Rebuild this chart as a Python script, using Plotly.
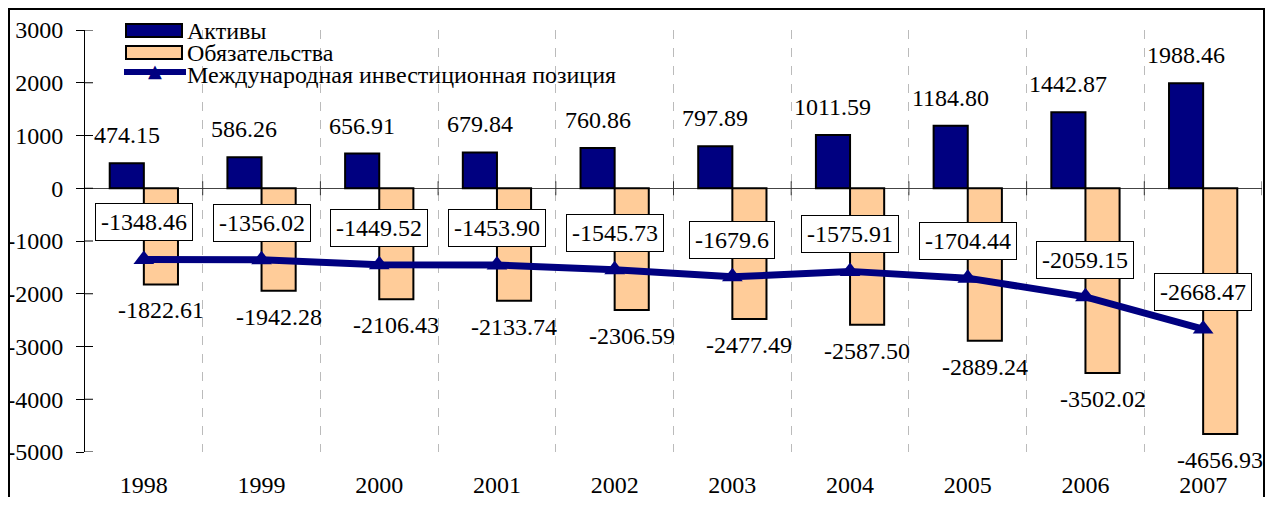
import plotly.graph_objects as go

years = ["1998", "1999", "2000", "2001", "2002", "2003", "2004", "2005", "2006", "2007"]
assets = [474.15, 586.26, 656.91, 679.84, 760.86, 797.89, 1011.59, 1184.80, 1442.87, 1988.46]
liabilities = [-1822.61, -1942.28, -2106.43, -2133.74, -2306.59, -2477.49, -2587.50, -2889.24, -3502.02, -4656.93]
net_position = [-1348.46, -1356.02, -1449.52, -1453.90, -1545.73, -1679.6, -1575.91, -1704.44, -2059.15, -2668.47]
net_labels = ["-1348.46", "-1356.02", "-1449.52", "-1453.90", "-1545.73", "-1679.6", "-1575.91", "-1704.44", "-2059.15", "-2668.47"]
y_ticks = [3000, 2000, 1000, 0, -1000, -2000, -3000, -4000, -5000]
y_tick_text = ["3000", "2000", "1000", "0", "-1000", "-2000", "-3000", "-4000", "-5000"]
series_names = ["Активы", "Обязательства", "Международная инвестиционная позиция"]

# the page body has an 8px margin on every side: lay the figure out in window pixels
OFF = 8
WIN_W, WIN_H = 1273, 505
W, H = WIN_W - 2 * OFF, WIN_H - 2 * OFF
L, R, T, B = 85, 1262, 30, 452          # plot area in window pixels
BARGAP = 0.42
FONT = "Liberation Serif"
FS = 24
NAVY = "#000080"
PEACH = "#FFCC99"


def px(x):
    return (x - L) / (R - L)


def py(y):
    return (B - y) / (B - T)


fig = go.Figure()
fig.add_bar(x=years, y=assets, name=series_names[0], marker=dict(color=NAVY, line=dict(color="black", width=2)))
fig.add_bar(x=years, y=liabilities, name=series_names[1], marker=dict(color=PEACH, line=dict(color="black", width=2)))
fig.add_scatter(x=years, y=net_position, name=series_names[2], mode="lines+markers",
                line=dict(color=NAVY, width=7),
                marker=dict(symbol="triangle-up", size=18, color=NAVY))

cat_w = (R - L) / len(years)
bar_w = cat_w * (1 - BARGAP) / 2

ann = []
for i, (a, l, n, nl) in enumerate(zip(assets, liabilities, net_position, net_labels)):
    ann.append(dict(x=i, y=a, text=f"{a:.2f}", showarrow=False, xshift=-bar_w / 2, yshift=28,
                    yanchor="middle", font=dict(family=FONT, size=FS, color="black")))
    ann.append(dict(x=i, y=l, text=f"{l:.2f}", showarrow=False, xshift=bar_w / 2, yshift=-26,
                    yanchor="middle", font=dict(family=FONT, size=FS, color="black")))
    ann.append(dict(x=i, y=n, text=nl, showarrow=False, yshift=37, yanchor="middle",
                    bgcolor="white", bordercolor="black", borderwidth=1, borderpad=5,
                    font=dict(family=FONT, size=FS, color="black")))

# legend (custom)
leg_y = [31, 53, 75]
for name, yc in zip(series_names, leg_y):
    ann.append(dict(xref="paper", yref="paper", x=px(185), y=py(yc), text=name, showarrow=False,
                    xanchor="left", yanchor="middle", font=dict(family=FONT, size=FS, color="black")))
ann.append(dict(xref="paper", yref="paper", x=px(155), y=py(71), text="▲", showarrow=False,
                xanchor="center", yanchor="middle", font=dict(family="DejaVu Sans", size=18, color=NAVY)))

shapes = []
shapes.append(dict(type="rect", xref="paper", yref="paper", x0=px(126), x1=px(182), y0=py(37), y1=py(24),
                   fillcolor=NAVY, line=dict(color="black", width=2)))
shapes.append(dict(type="rect", xref="paper", yref="paper", x0=px(126), x1=px(182), y0=py(59), y1=py(46),
                   fillcolor=PEACH, line=dict(color="black", width=2)))
shapes.append(dict(type="line", xref="paper", yref="paper", x0=px(124), x1=px(186), y0=py(72), y1=py(72),
                   line=dict(color=NAVY, width=6)))
# outer border
shapes.append(dict(type="rect", xref="paper", yref="paper", x0=px(OFF + 1), x1=px(WIN_W - OFF - 1),
                   y0=py(530), y1=py(OFF + 1), line=dict(color="black", width=2), layer="above"))
# zero-line tick marks at category boundaries
for i in range(len(years)):
    shapes.append(dict(type="line", xref="x", yref="y", x0=i + 0.5, x1=i + 0.5, ysizemode="pixel", yanchor=0,
                       y0=-7, y1=7, line=dict(color="#333333", width=1)))
# inside part of y ticks
for v in y_ticks:
    shapes.append(dict(type="line", xref="paper", yref="y", xsizemode="pixel", xanchor=0, x0=0, x1=8,
                       y0=v, y1=v, line=dict(color="black", width=1)))

fig.update_layout(
    width=W, height=H,
    margin=dict(l=L - OFF, r=OFF + W - R, t=T - OFF, b=OFF + H - B, autoexpand=False),
    paper_bgcolor="white", plot_bgcolor="white",
    barmode="group", bargap=BARGAP, bargroupgap=0,
    showlegend=False,
    annotations=ann, shapes=shapes,
    font=dict(family=FONT, size=FS, color="black"),
)
fig.update_xaxes(type="category", categoryarray=years, range=[-0.5, len(years) - 0.5],
                 tickson="boundaries", showgrid=True, griddash="dash", gridcolor="#BBBBBB",
                 gridwidth=1, ticks="", showline=False, ticklabelstandoff=16, zeroline=False, tickangle=0,
                 tickfont=dict(family=FONT, size=FS, color="black"))
fig.update_yaxes(range=[-5000, 3000], tickvals=y_ticks, ticktext=y_tick_text, showgrid=False, zeroline=True,
                 zerolinecolor="#444444", zerolinewidth=1, showline=True, linecolor="black", linewidth=1,
                 ticks="outside", ticklen=8, tickcolor="black", ticklabelstandoff=8,
                 tickfont=dict(family=FONT, size=FS, color="black"))

fig.write_html("out.html")
